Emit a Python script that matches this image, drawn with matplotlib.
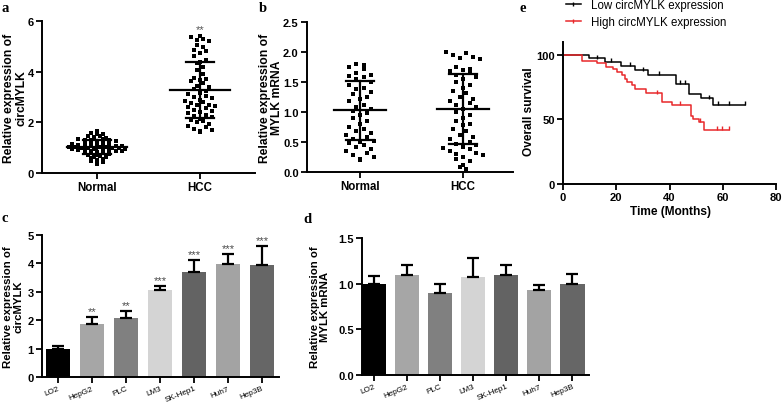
import matplotlib
matplotlib.use('Agg')
import matplotlib.pyplot as plt
import numpy as np
from matplotlib.lines import Line2D

plt.rcParams['font.family'] = ['Liberation Sans', 'DejaVu Sans']

# ---------------- data ----------------
a_normal = [1.66, 1.58, 1.55, 1.52, 1.48, 1.47, 1.44, 1.40, 1.36, 1.33, 1.31, 1.30, 1.29, 1.28,
            1.27, 1.24, 1.22, 1.20, 1.18, 1.16, 1.14, 1.12, 1.11, 1.10, 1.09, 1.08, 1.07, 1.06,
            1.05, 1.04, 1.03, 1.02, 1.01, 1.00, 0.99, 0.98, 0.97, 0.96, 0.95, 0.93, 0.92, 0.91,
            0.90, 0.89, 0.88, 0.87, 0.86, 0.84, 0.82, 0.80, 0.78, 0.76, 0.73, 0.70, 0.68, 0.65,
            0.62, 0.58, 0.55, 0.52, 0.48, 0.45, 0.40, 0.35]
a_hcc = [5.40, 5.35, 5.30, 5.25, 5.22, 5.05, 4.98, 4.85, 4.80, 4.72, 4.60, 4.45, 4.40, 4.35,
         4.20, 4.05, 3.90, 3.75, 3.72, 3.68, 3.62, 3.55, 3.45, 3.40, 3.30, 3.25, 3.15, 3.10,
         3.05, 3.00, 2.95, 2.90, 2.85, 2.80, 2.75, 2.70, 2.68, 2.65, 2.60, 2.55, 2.50, 2.45,
         2.40, 2.35, 2.30, 2.25, 2.20, 2.15, 2.10, 2.05, 2.00, 1.95, 1.85, 1.80, 1.75, 1.70,
         1.65, 1.60]
a_mean = [1.02, 3.29]
a_sd = [0.27, 1.10]

b_normal = [1.80, 1.78, 1.75, 1.72, 1.65, 1.62, 1.60, 1.58, 1.55, 1.50, 1.45, 1.40, 1.38, 1.33,
            1.30, 1.25, 1.22, 1.18, 1.12, 1.08, 1.05, 1.02, 0.98, 0.95, 0.90, 0.85, 0.80, 0.75,
            0.72, 0.68, 0.65, 0.62, 0.58, 0.55, 0.52, 0.50, 0.48, 0.45, 0.42, 0.38, 0.35, 0.32,
            0.28, 0.25, 0.22, 0.20]
b_hcc = [2.00, 1.98, 1.95, 1.92, 1.90, 1.88, 1.75, 1.72, 1.70, 1.68, 1.65, 1.62, 1.58, 1.55,
         1.50, 1.45, 1.40, 1.35, 1.32, 1.25, 1.22, 1.18, 1.15, 1.12, 1.08, 1.05, 1.00, 0.95,
         0.90, 0.85, 0.80, 0.78, 0.72, 0.68, 0.62, 0.58, 0.55, 0.50, 0.47, 0.45, 0.42, 0.40,
         0.38, 0.35, 0.32, 0.30, 0.28, 0.25, 0.22, 0.18, 0.12, 0.08, 0.05]
b_mean = [1.03, 1.05]
b_sd = [0.49, 0.59]

groups = ['Normal', 'HCC']

cells = ['LO2', 'HepG2', 'PLC', 'LM3', 'SK-Hep1', 'Huh7', 'Hep3B']
c_vals = [1.00, 1.86, 2.08, 3.05, 3.70, 3.97, 3.94]
c_err = [0.08, 0.25, 0.25, 0.15, 0.42, 0.37, 0.66]
c_sig = ['', '**', '**', '***', '***', '***', '***']
d_vals = [1.00, 1.10, 0.90, 1.07, 1.10, 0.93, 1.00]
d_err = [0.08, 0.10, 0.10, 0.21, 0.10, 0.06, 0.11]
bar_colors = ['#000000', '#a6a6a6', '#808080', '#d4d4d4', '#636363', '#a3a3a3', '#666666']

low_t = [0, 9.8, 15.8, 21.8, 27, 32, 42.5, 47.5, 52, 56.3, 68.4]
low_s = [100, 97.4, 94.8, 91.5, 88, 84.6, 77.5, 69.8, 66.4, 61.2, 61.2]
low_cens = [12.8, 18, 25, 30, 36, 44, 46, 55, 58.3, 62.4, 68.4]
high_t = [0, 7, 12.8, 16.2, 18.8, 20.3, 22.3, 23.4, 24, 26, 27, 31, 37.3, 41, 48, 49, 51, 53, 62.4]
high_s = [100, 95.6, 93.8, 91, 89, 87, 84.5, 81.4, 78.8, 76.7, 73.6, 70.3, 63.8, 61.2, 53,
          50.4, 48.3, 41.9, 41.9]
high_cens = [35.3, 44, 51.5, 58, 59.8, 62.4]

# ---------------- helpers ----------------
W, H = 784, 406
fig = plt.figure(figsize=(W / 100, H / 100), dpi=100)

TICK_FS = 8.0
LAB_FS = 8.7


def add_ax(l, t, r, b):
    return fig.add_axes([l / W, 1 - b / H, (r - l) / W, (b - t) / H])


def style(ax):
    for s in ['top', 'right']:
        ax.spines[s].set_visible(False)
    for s in ['left', 'bottom']:
        ax.spines[s].set_linewidth(1.4)
    ax.tick_params(width=1.3, length=4, labelsize=TICK_FS, pad=2)


def row_layout(vals, center, dx, dy):
    """Arrange points of a column scatter in horizontal rows (layout only)."""
    v = np.asarray(vals, dtype=float)
    bins = np.round(v / dy)
    xs = np.zeros(len(v))
    for b in np.unique(bins):
        idx = np.where(bins == b)[0]
        n = len(idx)
        offs = (np.arange(n) - (n - 1) / 2) * dx
        order = list(range(0, n, 2)) + list(range(1, n, 2))
        for j, k in enumerate(order):
            xs[idx[k]] = center + offs[j]
    return xs


def scatter_panel(ax, data, means, sds, dxs, dys, mw, cw):
    for i, vals in enumerate(data):
        xs = row_layout(vals, i, dxs[i], dys[i])
        ax.scatter(xs, vals, marker='s', s=9, color='black', linewidths=0, zorder=3)
        m, s = means[i], sds[i]
        ax.plot([i - mw, i + mw], [m, m], color='black', lw=1.6, zorder=4)
        ax.plot([i, i], [m - s, m + s], color='black', lw=1.6, zorder=4)
        for y in (m - s, m + s):
            ax.plot([i - cw, i + cw], [y, y], color='black', lw=1.6, zorder=4)


def label(x, y, s, **kw):
    fig.text(x / W, 1 - y / H, s, **kw)


# ---------------- panel a ----------------
axa = add_ax(42, 22, 255, 174)
style(axa)
scatter_panel(axa, [a_normal, a_hcc], a_mean, a_sd, [0.06, 0.06], [0.11, 0.25], 0.29, 0.14)
axa.set_xlim(-0.534, 1.534)
axa.set_ylim(0, 6)
axa.set_yticks([0, 2, 4, 6], ['0', '2', '4', '6'], fontweight='bold')
axa.set_xticks([0, 1], groups, fontweight='bold', fontsize=8.3)
axa.text(1, max(a_hcc) + 0.08, '**', ha='center', va='bottom', fontsize=8, color='#555555')

# ---------------- panel b ----------------
axb = add_ax(307, 23, 513, 173)
style(axb)
scatter_panel(axb, [b_normal, b_hcc], b_mean, b_sd, [0.07, 0.065], [0.14, 0.16], 0.25, 0.14)
axb.set_xlim(-0.515, 1.485)
axb.set_ylim(0, 2.5)
axb.set_yticks([0, 0.5, 1.0, 1.5, 2.0, 2.5], ['0.0', '0.5', '1.0', '1.5', '2.0', '2.5'],
               fontweight='bold')
axb.set_xticks([0, 1], groups, fontweight='bold', fontsize=8.3)

# ---------------- panel c ----------------
x = np.arange(len(cells))
axc = add_ax(42, 236, 279, 378)
style(axc)
axc.bar(x, c_vals, width=0.7, color=bar_colors, zorder=2)
axc.errorbar(x, c_vals, yerr=[np.zeros(len(x)), c_err], fmt='none', ecolor='black',
             elinewidth=1.6, capsize=4, capthick=1.6, zorder=3)
for i in range(len(x)):
    if c_sig[i]:
        axc.text(x[i], c_vals[i] + c_err[i] + 0.03, c_sig[i], ha='center', va='bottom',
                 fontsize=8, color='#4a4a4a')
axc.set_xlim(-0.47, 6.5)
axc.set_ylim(0, 5)
axc.set_yticks(range(6), [str(v) for v in range(6)], fontweight='bold')
axc.set_xticks(x, cells, rotation=22, ha='right', rotation_mode='anchor', fontsize=5.9)
axc.tick_params(axis='x', pad=1.5)

# ---------------- panel d ----------------
axd = add_ax(362, 239, 589, 376)
style(axd)
axd.bar(x, d_vals, width=0.73, color=bar_colors, zorder=2)
axd.errorbar(x, d_vals, yerr=[np.zeros(len(x)), d_err], fmt='none', ecolor='black',
             elinewidth=1.6, capsize=4, capthick=1.6, zorder=3)
axd.set_xlim(-0.36, 6.5)
axd.set_ylim(0, 1.5)
axd.set_yticks([0, 0.5, 1.0, 1.5], ['0.0', '0.5', '1.0', '1.5'], fontweight='bold')
axd.set_xticks(x, cells, rotation=22, ha='right', rotation_mode='anchor', fontsize=5.9)
axd.tick_params(axis='x', pad=1.5)

# ---------------- panel e ----------------
axe = add_ax(563, 43, 776, 185)
style(axe)


def km(ax, t, s, cens, color):
    ax.step(t, s, where='post', color=color, lw=1.1)
    t_arr = np.array(t)
    cy = [s[np.searchsorted(t_arr, c, side='right') - 1] for c in cens]
    ax.plot(cens, np.array(cy) + 1.2, linestyle='none', marker='|', markersize=3.5,
            mew=1.0, color=color)


km(axe, low_t, low_s, low_cens, 'black')
km(axe, high_t, high_s, high_cens, '#e8282b')
axe.set_xlim(0, 80)
axe.set_ylim(0, 110)
axe.set_xticks([0, 20, 40, 60, 80], ['0', '20', '40', '60', '80'], fontweight='bold')
axe.set_yticks([0, 50, 100], ['0', '50', '100'], fontweight='bold')

handles = [Line2D([], [], color='black', lw=1.1, marker='|', markersize=3.5),
           Line2D([], [], color='#e8282b', lw=1.1, marker='|', markersize=3.5)]
fig.legend(handles, ['Low circMYLK expression', 'High circMYLK expression'],
           loc='upper left', bbox_to_anchor=(566 / W, 1 - 0.5 / H), frameon=False,
           fontsize=8.3, handlelength=1.3, handletextpad=0.85, labelspacing=0.35,
           borderaxespad=0, borderpad=0.0)

# ---------------- axis titles ----------------
label(15.5, 98, 'Relative expression of\ncircMYLK', rotation=90, ha='center', va='center',
      fontsize=LAB_FS, fontweight='bold', linespacing=1.1)
label(271, 98, 'Relative expression of\nMYLK mRNA', rotation=90, ha='center', va='center',
      fontsize=LAB_FS, fontweight='bold', linespacing=1.1)
label(13, 307, 'Relative expression of\ncircMYLK', rotation=90, ha='center', va='center',
      fontsize=8.2, fontweight='bold', linespacing=1.1)
label(320, 307, 'Relative expression of\nMYLK mRNA', rotation=90, ha='center', va='center',
      fontsize=8.2, fontweight='bold', linespacing=1.1)
label(529, 112, 'Overall survival', rotation=90, ha='center', va='center', fontsize=8.6,
      fontweight='bold')
label(670, 212, 'Time (Months)', ha='center', va='center', fontsize=8.6, fontweight='bold')

# ---------------- panel letters ----------------
for s, (px, py) in zip('abcde', [(5, 8), (263, 8), (5, 219), (307, 220), (523, 9)]):
    label(px, py, s, ha='center', va='center', fontsize=10.5, fontweight='bold',
          family=['Liberation Serif', 'DejaVu Serif'])

fig.savefig('out.png', dpi=100)
